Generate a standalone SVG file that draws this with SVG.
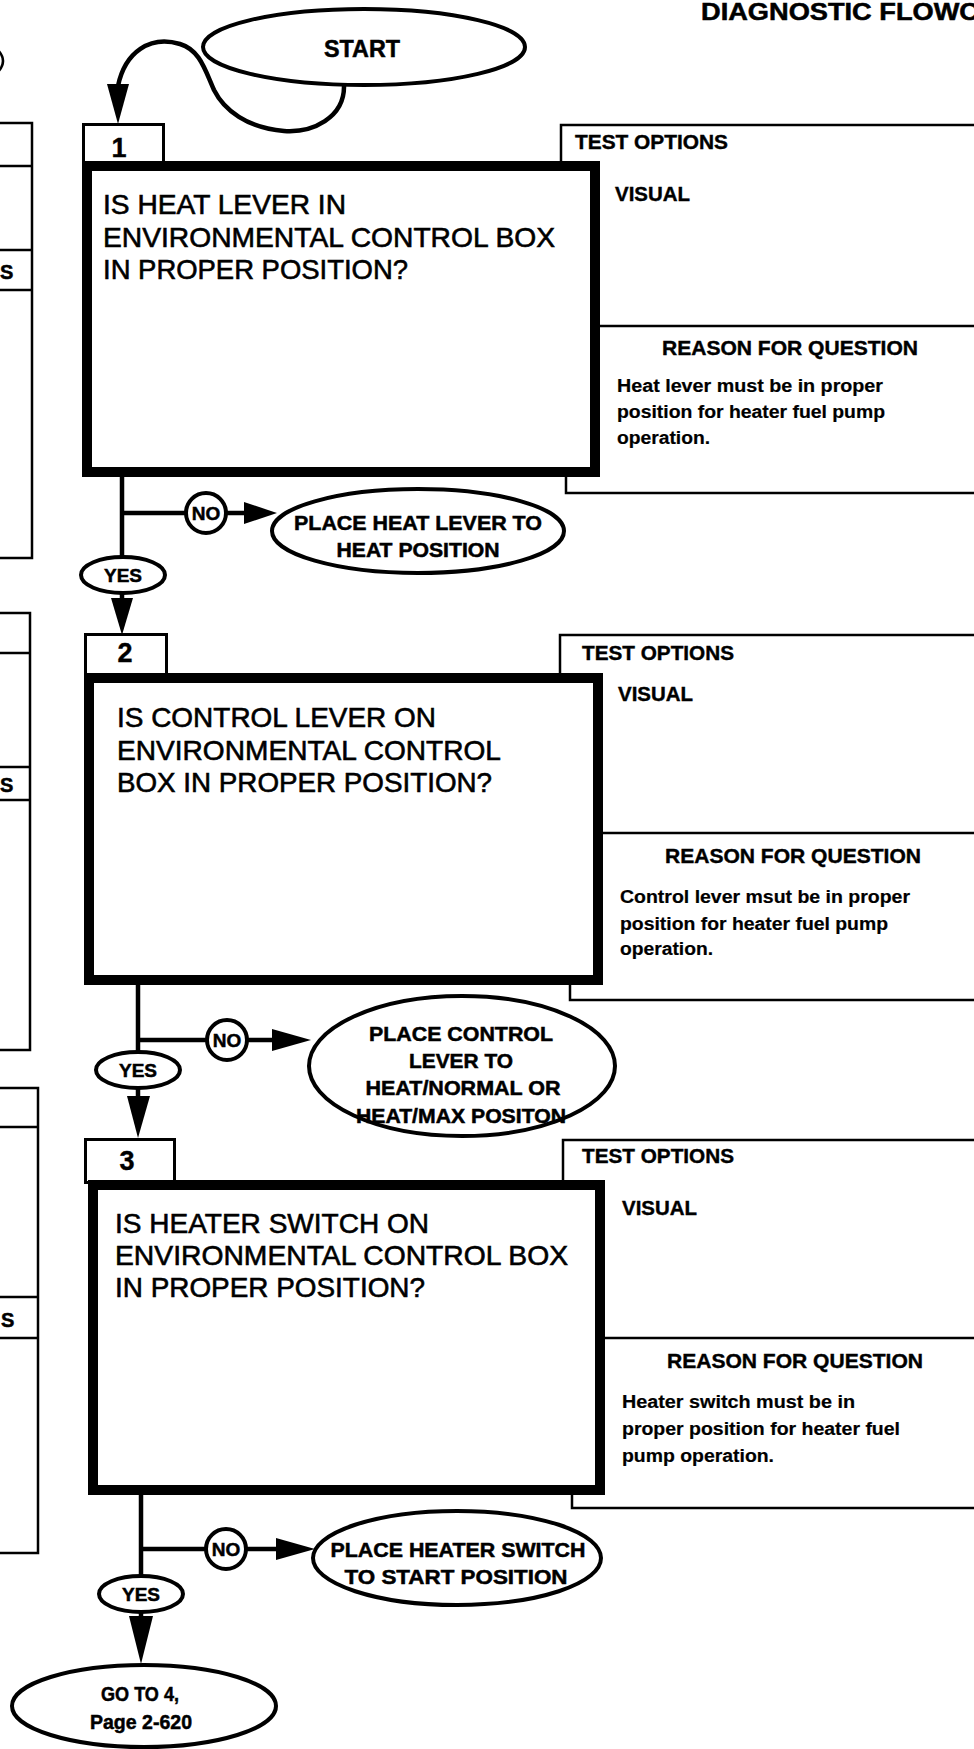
<svg xmlns="http://www.w3.org/2000/svg" width="974" height="1749" viewBox="0 0 974 1749">
<style>
text{font-family:"Liberation Sans",Arial,sans-serif;fill:#000}
.b{font-weight:bold;stroke:#000;stroke-width:0.5}
.q{font-size:28px;stroke:#000;stroke-width:0.6}
.hd{font-size:20.5px;font-weight:bold;stroke:#000;stroke-width:0.4}
.rs{font-size:17.5px;font-weight:bold;stroke:#000;stroke-width:0.2}
.el{font-size:20px;font-weight:bold;text-anchor:middle;stroke:#000;stroke-width:0.5}
.dg{font-size:27px;font-weight:bold;text-anchor:middle;stroke:#000;stroke-width:0.4}
.thin{fill:none;stroke:#000;stroke-width:2.5}
.tab{fill:#fff;stroke:#000;stroke-width:3}
.box{fill:#fff;stroke:#000;stroke-width:10}
.ov{fill:#fff;stroke:#000;stroke-width:4}
.ln{fill:none;stroke:#000;stroke-width:4.5}
.ah{fill:#000;stroke:none}
</style>

<text class="b" x="701" y="20" font-size="23" textLength="278" lengthAdjust="spacingAndGlyphs">DIAGNOSTIC FLOWC</text>

<g id="prev-column">
<path class="thin" d="M-2 50 Q8 61 -2 72"/>
<path class="thin" d="M0 123 H32 V558 H0 M0 166 H32 M0 250 H32 M0 290 H32"/>
<text class="b" x="0" y="279" font-size="20">S</text>
<path class="thin" d="M0 613 H30 V1050 H0 M0 653 H30 M0 767 H30 M0 800 H30"/>
<text class="b" x="0" y="792" font-size="20">S</text>
<path class="thin" d="M0 1088 H38 V1553 H0 M0 1127 H38 M0 1297 H38 M0 1338 H38"/>
<text class="b" x="1" y="1327" font-size="20">S</text>
</g>

<g id="start">
<ellipse class="ov" cx="364" cy="47" rx="161" ry="38"/>
<text class="b" x="362" y="57" font-size="23" text-anchor="middle" textLength="76" lengthAdjust="spacingAndGlyphs">START</text>
</g>

<g id="panel1">
<path class="thin" d="M980 125 H561 V170 M566 470 V493 H980 M598 326 H980"/>
<text class="hd" x="575" y="149" textLength="153" lengthAdjust="spacingAndGlyphs">TEST OPTIONS</text>
<text class="hd" x="615" y="201" textLength="75" lengthAdjust="spacingAndGlyphs">VISUAL</text>
<text class="hd" x="662" y="355" textLength="256" lengthAdjust="spacingAndGlyphs">REASON FOR QUESTION</text>
<text class="rs" x="617" y="392" textLength="266" lengthAdjust="spacingAndGlyphs">Heat lever must be in proper</text>
<text class="rs" x="617" y="418" textLength="268" lengthAdjust="spacingAndGlyphs">position for heater fuel pump</text>
<text class="rs" x="617" y="444" textLength="93" lengthAdjust="spacingAndGlyphs">operation.</text>
</g>

<g id="panel2">
<path class="thin" d="M980 635 H560 V680 M570 980 V1000 H980 M600 833 H980"/>
<text class="hd" x="582" y="660" textLength="152" lengthAdjust="spacingAndGlyphs">TEST OPTIONS</text>
<text class="hd" x="618" y="701" textLength="75" lengthAdjust="spacingAndGlyphs">VISUAL</text>
<text class="hd" x="665" y="863" textLength="256" lengthAdjust="spacingAndGlyphs">REASON FOR QUESTION</text>
<text class="rs" x="620" y="903" textLength="290" lengthAdjust="spacingAndGlyphs">Control lever msut be in proper</text>
<text class="rs" x="620" y="930" textLength="268" lengthAdjust="spacingAndGlyphs">position for heater fuel pump</text>
<text class="rs" x="620" y="955" textLength="93" lengthAdjust="spacingAndGlyphs">operation.</text>
</g>

<g id="panel3">
<path class="thin" d="M980 1140 H563 V1185 M572 1490 V1508 H980 M602 1338 H980"/>
<text class="hd" x="582" y="1163" textLength="152" lengthAdjust="spacingAndGlyphs">TEST OPTIONS</text>
<text class="hd" x="622" y="1215" textLength="75" lengthAdjust="spacingAndGlyphs">VISUAL</text>
<text class="hd" x="667" y="1368" textLength="256" lengthAdjust="spacingAndGlyphs">REASON FOR QUESTION</text>
<text class="rs" x="622" y="1408" textLength="233" lengthAdjust="spacingAndGlyphs">Heater switch must be in</text>
<text class="rs" x="622" y="1435" textLength="278" lengthAdjust="spacingAndGlyphs">proper position for heater fuel</text>
<text class="rs" x="622" y="1462" textLength="152" lengthAdjust="spacingAndGlyphs">pump operation.</text>
</g>

<g id="step1">
<rect class="tab" x="83.5" y="124.5" width="80" height="42"/>
<text class="dg" x="119" y="157">1</text>
<rect class="box" x="87" y="166" width="508" height="306"/>
<text class="q" x="103" y="214" textLength="243" lengthAdjust="spacingAndGlyphs">IS HEAT LEVER IN</text>
<text class="q" x="103" y="247" textLength="452" lengthAdjust="spacingAndGlyphs">ENVIRONMENTAL CONTROL BOX</text>
<text class="q" x="103" y="279" textLength="305" lengthAdjust="spacingAndGlyphs">IN PROPER POSITION?</text>
</g>

<g id="step2">
<rect class="tab" x="85.5" y="634.5" width="81" height="42"/>
<text class="dg" x="125" y="662">2</text>
<rect class="box" x="89" y="678" width="509" height="302"/>
<text class="q" x="117" y="727" textLength="319" lengthAdjust="spacingAndGlyphs">IS CONTROL LEVER ON</text>
<text class="q" x="117" y="760" textLength="384" lengthAdjust="spacingAndGlyphs">ENVIRONMENTAL CONTROL</text>
<text class="q" x="117" y="792" textLength="375" lengthAdjust="spacingAndGlyphs">BOX IN PROPER POSITION?</text>
</g>

<g id="step3">
<rect class="tab" x="85.5" y="1139.5" width="89" height="43"/>
<text class="dg" x="127" y="1170">3</text>
<rect class="box" x="93" y="1185" width="507" height="305"/>
<text class="q" x="115" y="1233" textLength="314" lengthAdjust="spacingAndGlyphs">IS HEATER SWITCH ON</text>
<text class="q" x="115" y="1265" textLength="453" lengthAdjust="spacingAndGlyphs">ENVIRONMENTAL CONTROL BOX</text>
<text class="q" x="115" y="1297" textLength="310" lengthAdjust="spacingAndGlyphs">IN PROPER POSITION?</text>
</g>

<g id="connectors">
<path class="ln" d="M344 85 C345 118 312 133 284 131 C247 128 224 110 214 90 C205 70 200 50 180 44 C150 35 125 52 118 86"/>
<polygon class="ah" points="107,84 129,84 118,124"/>

<path class="ln" d="M122 475 V600 M122 513 H190 M224 513 H246"/>
<polygon class="ah" points="244,502 244,524 277,513"/>
<polygon class="ah" points="111,598 133,598 122,635"/>

<path class="ln" d="M138 983 V1100 M138 1040 H210 M245 1040 H275"/>
<polygon class="ah" points="272,1029 272,1051 311,1040"/>
<polygon class="ah" points="127,1096 150,1096 138,1138"/>

<path class="ln" d="M141 1493 V1620 M141 1549 H209 M243 1549 H278"/>
<polygon class="ah" points="276,1538 276,1560 315,1549"/>
<polygon class="ah" points="129,1616 153,1616 141,1664"/>
</g>

<g id="no1"><circle class="ov" cx="206" cy="513" r="20"/><text class="b" x="206" y="520" font-size="19" text-anchor="middle">NO</text></g>
<g id="yes1"><ellipse class="ov" cx="123" cy="575" rx="42" ry="18"/><text class="b" x="123" y="582" font-size="19" text-anchor="middle">YES</text></g>
<g id="act1">
<ellipse class="ov" cx="418" cy="531" rx="146" ry="42"/>
<text class="el" x="418" y="530" textLength="248" lengthAdjust="spacingAndGlyphs">PLACE HEAT LEVER TO</text>
<text class="el" x="418" y="557" textLength="163" lengthAdjust="spacingAndGlyphs">HEAT POSITION</text>
</g>

<g id="no2"><circle class="ov" cx="227" cy="1040" r="20"/><text class="b" x="227" y="1047" font-size="19" text-anchor="middle">NO</text></g>
<g id="yes2"><ellipse class="ov" cx="138" cy="1070" rx="42" ry="18"/><text class="b" x="138" y="1077" font-size="19" text-anchor="middle">YES</text></g>
<g id="act2">
<ellipse class="ov" cx="462" cy="1066" rx="153" ry="70"/>
<text class="el" x="461" y="1041" textLength="184" lengthAdjust="spacingAndGlyphs">PLACE CONTROL</text>
<text class="el" x="461" y="1068" textLength="104" lengthAdjust="spacingAndGlyphs">LEVER TO</text>
<text class="el" x="463" y="1095" textLength="195" lengthAdjust="spacingAndGlyphs">HEAT/NORMAL OR</text>
<text class="el" x="461" y="1123" textLength="210" lengthAdjust="spacingAndGlyphs">HEAT/MAX POSITON</text>
</g>

<g id="no3"><circle class="ov" cx="226" cy="1549" r="20"/><text class="b" x="226" y="1556" font-size="19" text-anchor="middle">NO</text></g>
<g id="yes3"><ellipse class="ov" cx="141" cy="1594" rx="42" ry="18"/><text class="b" x="141" y="1601" font-size="19" text-anchor="middle">YES</text></g>
<g id="act3">
<ellipse class="ov" cx="457" cy="1558" rx="144" ry="47"/>
<text class="el" x="458" y="1557" textLength="255" lengthAdjust="spacingAndGlyphs">PLACE HEATER SWITCH</text>
<text class="el" x="456" y="1584" textLength="223" lengthAdjust="spacingAndGlyphs">TO START POSITION</text>
</g>

<g id="goto4">
<ellipse class="ov" cx="144" cy="1706" rx="132" ry="41"/>
<text class="el" x="140" y="1701" textLength="78" lengthAdjust="spacingAndGlyphs">GO TO 4,</text>
<text class="el" x="141" y="1729" textLength="102" lengthAdjust="spacingAndGlyphs">Page 2-620</text>
</g>
</svg>
